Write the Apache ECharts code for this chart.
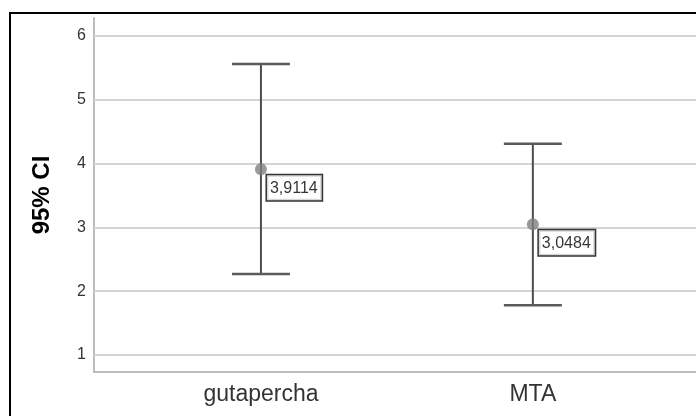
<!DOCTYPE html>
<html>
<head>
<meta charset="utf-8">
<script src="https://cdn.jsdelivr.net/npm/echarts@6/dist/echarts.min.js"></script>
<style>
html,body{margin:0;padding:0;background:#fff;}
#chart{width:696px;height:416px;}
</style>
</head>
<body>
<div id="chart"></div>
<script>
var categories = ["gutapercha", "MTA"];
var means = [3.9114, 3.0484];
var lowerCI = [2.27, 1.78];
var upperCI = [5.56, 4.31];
var yTicks = [1, 2, 3, 4, 5, 6];
var yTitle = "95% CI";

var chart = echarts.init(document.getElementById('chart'), null, {renderer: 'canvas'});

var xPos = categories.map(function (c, i) { return i + 1; });
var barData = categories.map(function (c, i) { return [xPos[i], lowerCI[i], upperCI[i]]; });
var meanData = categories.map(function (c, i) { return [xPos[i], means[i]]; });

var font = '"Liberation Sans", Arial, sans-serif';

var option = {
  animation: false,
  backgroundColor: '#ffffff',
  grid: {left: 94, right: 0, top: 18, bottom: 44, containLabel: false},
  graphic: [{
    type: 'rect',
    shape: {x: 10, y: 13, width: 720, height: 440},
    style: {fill: 'none', stroke: '#000', lineWidth: 2},
    silent: true, z: 100
  }],
  xAxis: {
    type: 'value',
    min: 0.386,
    max: 2.6,
    axisLine: {show: true, lineStyle: {color: '#bdbdbd', width: 2}},
    axisTick: {show: false},
    splitLine: {show: false},
    axisLabel: {
      customValues: xPos,
      formatter: function (v) { return categories[Math.round(v) - 1] || ''; },
      fontSize: 23, color: '#333', margin: 11, fontFamily: font
    }
  },
  yAxis: {
    type: 'value',
    min: 0.734,
    max: 6.28,
    name: yTitle,
    nameLocation: 'middle',
    nameRotate: 90,
    nameGap: 40,
    nameTextStyle: {fontSize: 24, fontWeight: 'bold', color: '#000', fontFamily: font},
    axisLine: {show: true, lineStyle: {color: '#bdbdbd', width: 2}},
    axisTick: {show: false, customValues: yTicks},
    splitLine: {show: false},
    axisLabel: {customValues: yTicks, fontSize: 16, color: '#333', margin: 8, fontFamily: font}
  },
  series: [
    {
      type: 'custom',
      data: barData,
      z: 3,
      renderItem: function (params, api) {
        var x = api.value(0);
        var lo = api.coord([x, api.value(1)]);
        var hi = api.coord([x, api.value(2)]);
        var half = 29;
        return {
          type: 'group',
          children: [
            {type: 'line', shape: {x1: lo[0], y1: lo[1], x2: hi[0], y2: hi[1]}, style: {stroke: '#4d4d4d', lineWidth: 2}},
            {type: 'line', shape: {x1: hi[0] - half, y1: hi[1], x2: hi[0] + half, y2: hi[1]}, style: {stroke: '#5a5a5a', lineWidth: 2.5}},
            {type: 'line', shape: {x1: lo[0] - half, y1: lo[1], x2: lo[0] + half, y2: lo[1]}, style: {stroke: '#5a5a5a', lineWidth: 2.5}}
          ]
        };
      }
    },
    {
      type: 'scatter',
      data: meanData,
      symbol: 'circle',
      symbolSize: 12,
      z: 4,
      itemStyle: {color: '#7f7f7f'},
      label: {
        show: true,
        position: [12, 12],
        align: 'left',
        verticalAlign: 'top',
        formatter: function (p) { return p.value[1].toFixed(4).replace('.', ','); },
        fontSize: 16,
        color: '#000',
        fontFamily: font,
        backgroundColor: '#fff',
        borderColor: '#000',
        borderWidth: 1.5,
        padding: [5, 4, 4, 3]
      },
      markLine: {
        silent: true,
        symbol: 'none',
        label: {show: false},
        lineStyle: {color: '#d4d4d4', width: 2, type: 'solid'},
        z: 1,
        data: yTicks.map(function (t) { return {yAxis: t}; })
      }
    }
  ]
};
chart.setOption(option);
</script>
</body>
</html>
